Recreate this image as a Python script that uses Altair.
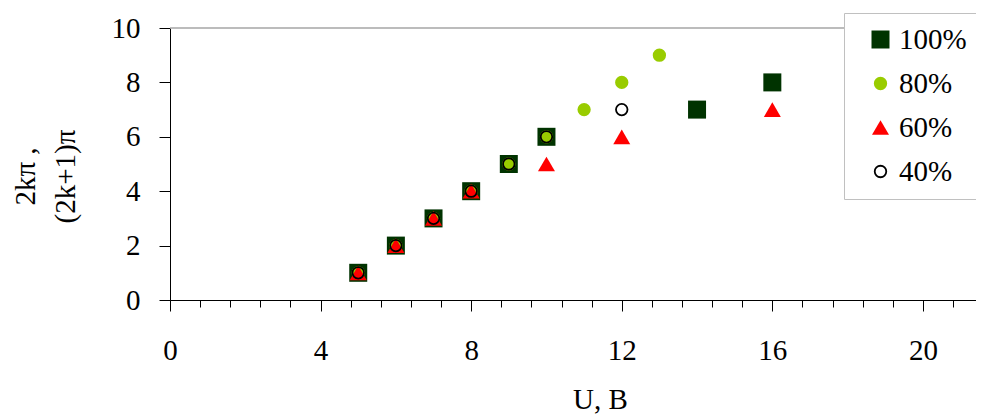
import altair as alt
import pandas as pd

series = ["100%", "80%", "60%", "40%"]
colors = ["#003300", "#99CC00", "#FF0000", "transparent"]
strokes = ["transparent", "transparent", "transparent", "#000000"]
shapes = ["square", "circle", "triangle-up", "circle"]
sizes = [324, 177, 289, 133]

x100 = [5, 6, 7, 8, 9, 10, 14, 16]
y100 = [1, 2, 3, 4, 5, 6, 7, 8]
x80 = [5, 6, 7, 8, 9, 10, 11, 12, 13]
y80 = [1, 2, 3, 4, 5, 6, 7, 8, 9]
x60 = [5, 6, 7, 8, 10, 12, 16]
y60 = [1, 2, 3, 4, 5, 6, 7]
x40 = [5, 6, 7, 8, 9, 10, 12]
y40 = [1, 2, 3, 4, 5, 6, 7]

x_major = [0, 4, 8, 12, 16, 20]
x_minor = [0, 0.8, 1.6, 2.4, 3.2, 4, 4.8, 5.6, 6.4, 7.2, 8, 8.8, 9.6, 10.4,
           11.2, 12, 12.8, 13.6, 14.4, 15.2, 16, 16.8, 17.6, 18.4, 19.2, 20, 20.8]
y_ticks = [0, 2, 4, 6, 8, 10]
x_domain = [0, 21.41]
y_domain = [0, 10]

rows = []
for name, xs, ys in [("100%", x100, y100), ("80%", x80, y80), ("60%", x60, y60), ("40%", x40, y40)]:
    for a, b in zip(xs, ys):
        rows.append({"x": a, "y": b, "series": name})
df = pd.DataFrame(rows)

FONT = "Liberation Serif"

leg = alt.Legend(
    title=None, orient="none", legendX=674, legendY=-15, direction="vertical",
    labelFont=FONT, labelFontSize=29, labelColor="black", labelLimit=300,
    padding=12, symbolOffset=10, rowPadding=14, labelOffset=4,
    strokeColor="#c0c0c0", fillColor="white", symbolStrokeWidth=1.8,
)

xscale = alt.Scale(domain=x_domain, nice=False, zero=False)
yscale = alt.Scale(domain=y_domain, nice=False)

yaxis = alt.Axis(
    values=y_ticks, tickSize=11, labelPadding=19, orient="left",
    labelFont=FONT, labelFontSize=29, labelColor="black",
    domainColor="black", tickColor="black", grid=False,
    title=["2kπ ,", "(2k+1)π"], titleFont=FONT, titleFontSize=29, titleFontWeight="normal",
    titleColor="black", titleAngle=270, titleAlign="center", titleBaseline="top",
    titleX=-159, titleY=148, titleLineHeight=40,
)

points = alt.Chart(df).mark_point(opacity=1, strokeWidth=1.8).encode(
    x=alt.X("x:Q", scale=xscale, axis=alt.Axis(
        orient="bottom",
        values=x_major, tickSize=11, labelPadding=25, labelFlush=False,
        labelFont=FONT, labelFontSize=29, labelColor="black",
        domainColor="black", tickColor="black", grid=False,
        title="U, B", titleFont=FONT, titleFontSize=29, titleFontWeight="normal",
        titleColor="black", titleX=430, titleY=85, titleAlign="center", titleBaseline="top",
    )),
    y=alt.Y("y:Q", scale=yscale, axis=yaxis),
    shape=alt.Shape("series:N", scale=alt.Scale(domain=series, range=shapes), legend=leg),
    fill=alt.Fill("series:N", scale=alt.Scale(domain=series, range=colors), legend=leg),
    stroke=alt.Stroke("series:N", scale=alt.Scale(domain=series, range=strokes), legend=leg),
    size=alt.Size("series:N", scale=alt.Scale(type="ordinal", domain=series, range=sizes), legend=leg),
)

minor = alt.Chart(pd.DataFrame({"x": x_minor})).mark_point(opacity=0).encode(
    x=alt.X("x:Q", scale=xscale, axis=alt.Axis(
        values=x_minor, tickSize=7, labels=False, domain=False, grid=False,
        tickColor="black", title=None, orient="bottom",
    )),
)

border = alt.Chart(pd.DataFrame({"v": [10]})).mark_rule(color="#a6a6a6", strokeWidth=1.5).encode(
    y=alt.Y("v:Q", scale=yscale, axis=yaxis),
)

chart = alt.layer(border, minor, points).resolve_axis(x="independent").properties(
    width=806, height=272,
    autosize=alt.AutoSizeParams(type="none"),
    padding={"left": 162, "top": 20, "right": 0, "bottom": 114},
).configure_view(stroke=None)

chart.save("out.html", embed_options={"renderer": "svg", "actions": False})
